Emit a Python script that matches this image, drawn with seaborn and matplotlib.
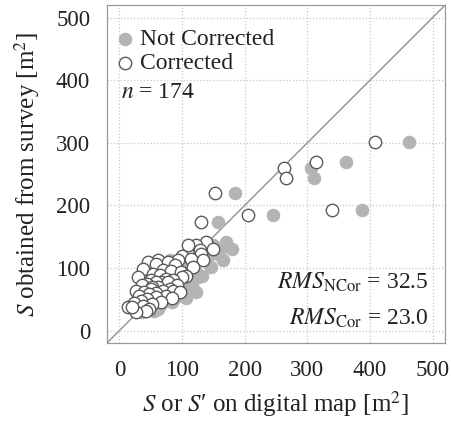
import numpy as np
import pandas as pd
import seaborn as sns
import matplotlib.pyplot as plt

# survey area S and the map areas (not corrected S, corrected S')
survey = [302, 270, 260, 244, 219, 193, 185, 173,
          141, 136, 136, 131, 129, 123, 119, 115, 112, 112, 112, 109, 109, 106,
          104, 101, 99, 97, 95, 93, 91, 89, 87, 85, 85, 83, 81, 80, 78, 77, 77,
          75, 73, 72, 70, 69, 67, 66, 64, 64, 64, 62, 61, 60, 58, 56, 55, 53,
          52, 50, 48, 46, 44, 42, 40, 37, 35, 32, 29, 38]
map_corrected = [408, 314, 262, 266, 152, 339, 205, 130,
                 138, 122, 110, 150, 128, 130, 100, 114, 134, 62, 94, 46, 78, 58,
                 88, 118, 38, 70, 82, 98, 54, 64, 106, 30, 100, 74, 50, 86, 66, 59, 78,
                 44, 92, 36, 62, 52, 51, 80, 27, 70, 86, 40, 96, 58, 48, 74, 32, 59,
                 84, 44, 35, 66, 24, 52, 38, 14, 48, 43, 27, 20]
map_not_corrected = [462, 362, 306, 310, 184, 387, 245, 158,
                     170, 150, 140, 179, 160, 158, 125, 140, 166, 80, 118, 62, 96, 74,
                     110, 147, 52, 88, 104, 122, 68, 80, 132, 42, 126, 92, 64, 108, 84, 76, 99,
                     58, 116, 48, 78, 66, 70, 104, 38, 90, 112, 54, 122, 76, 62, 94, 44, 78,
                     106, 58, 48, 84, 34, 66, 62, 22, 62, 56, 36, 30]

df = pd.DataFrame({
    "survey": survey * 2,
    "digital": map_not_corrected + map_corrected,
    "kind": ["Not Corrected"] * len(survey) + ["Corrected"] * len(survey),
})

sns.set_style("white")
plt.rcParams["font.family"] = ["Liberation Serif", "DejaVu Serif"]
plt.rcParams["mathtext.fontset"] = "stix"

fig = plt.figure(figsize=(4.51, 4.22), dpi=100)
ax = fig.add_axes([0.237, 0.187, 0.75, 0.801])

lim = (-20, 520)
ax.plot(lim, lim, color="#909090", lw=1.0, zorder=1)

sns.scatterplot(data=df[df.kind == "Not Corrected"], x="digital", y="survey",
                color="#b4b4b4", edgecolor="#b4b4b4", s=80, linewidth=0.8,
                label="Not Corrected", ax=ax, zorder=2)
sns.scatterplot(data=df[df.kind == "Corrected"], x="digital", y="survey",
                color="white", edgecolor="#5a5a5a", s=80, linewidth=1.0,
                label="Corrected", ax=ax, zorder=3)

ax.set_xlim(lim)
ax.set_ylim(lim)
ax.set_xticks(range(0, 501, 100))
ax.set_yticks(range(0, 501, 100))
ax.grid(True, ls=":", color="#c8c8c8", lw=0.9)
for sp in ax.spines.values():
    sp.set_color("#999999")
    sp.set_linewidth(0.9)
ax.tick_params(direction="out", length=4, width=0.8, color="#999999",
               labelsize=16.5, labelcolor="#222222", pad=8)

ax.set_xlabel("$S$ or $S$\u2032 on digital map [m$^2$]", fontsize=18,
              color="#222222", labelpad=6)
ax.set_ylabel("$S$ obtained from survey [m$^2$]", fontsize=18,
              color="#222222", labelpad=10)

leg = ax.legend(loc="upper left", bbox_to_anchor=(0.0, 0.945), frameon=False,
                fontsize=17, handletextpad=0.1, borderaxespad=0.0,
                labelspacing=0.1, borderpad=0.2, handlelength=1.1)
for t in leg.get_texts():
    t.set_color("#222222")

ax.text(2, 380, "$n$ = 174", fontsize=17, va="center", color="#222222")
ax.text(494, 77, r"$RMS_{\mathrm{NCor}}$ = 32.5", fontsize=17, ha="right",
        va="center", color="#222222")
ax.text(494, 19, r"$RMS_{\mathrm{Cor}}$ = 23.0", fontsize=17, ha="right",
        va="center", color="#222222")

fig.savefig("out.png", dpi=100)
